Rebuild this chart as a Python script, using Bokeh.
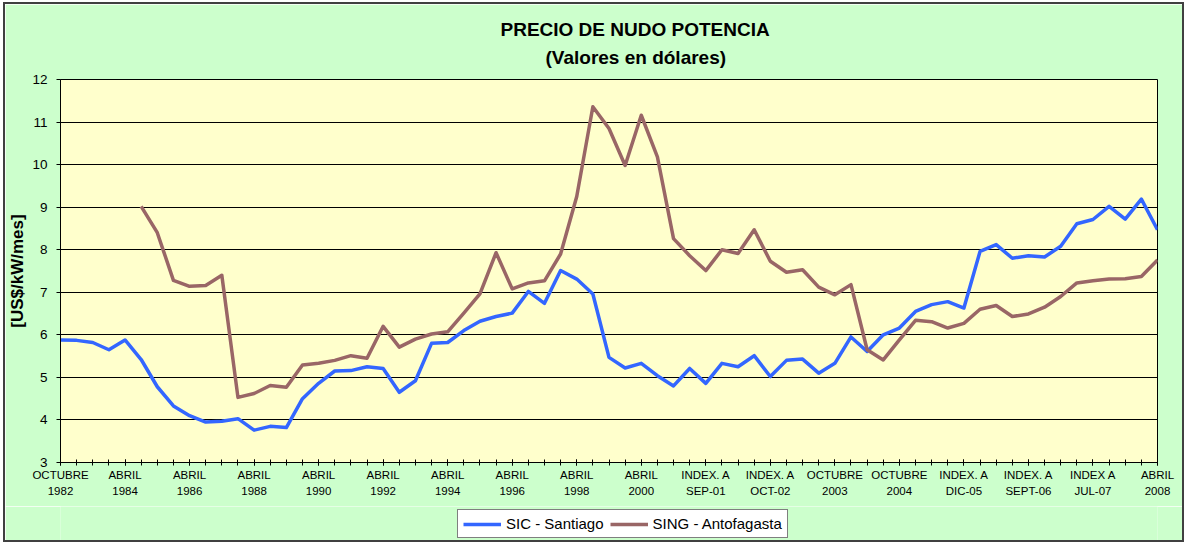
import numpy as np
from bokeh.plotting import figure
from bokeh.layouts import column
from bokeh.models import ColumnDataSource, FixedTicker, Legend, LegendItem, Title, Range1d
from bokeh.embed import file_html
from bokeh.resources import INLINE

# Category tick labels (one every 4 periods)
label_positions = list(range(0, 69, 4))
x_labels = [
    "OCTUBRE\n1982", "ABRIL\n1984", "ABRIL\n1986", "ABRIL\n1988", "ABRIL\n1990",
    "ABRIL\n1992", "ABRIL\n1994", "ABRIL\n1996", "ABRIL\n1998", "ABRIL\n2000",
    "INDEX. A\nSEP-01", "INDEX. A\nOCT-02", "OCTUBRE\n2003", "OCTUBRE\n2004",
    "INDEX. A\nDIC-05", "INDEX. A\nSEPT-06", "INDEX A\nJUL-07", "ABRIL\n2008",
]
series_names = ["SIC - Santiago", "SING - Antofagasta"]
series_colors = ["#3366FF", "#996666"]

# SIC - Santiago  [US$/kW/mes]
sic = [5.88, 5.87, 5.82, 5.65, 5.88, 5.42, 4.78, 4.33, 4.10, 3.95,
       3.97, 4.03, 3.76, 3.85, 3.82, 4.50, 4.86, 5.15, 5.16, 5.25,
       5.21, 4.65, 4.92, 5.80, 5.82, 6.10, 6.32, 6.43, 6.51, 7.02,
       6.74, 7.51, 7.31, 6.96, 5.47, 5.22, 5.33, 5.04, 4.80, 5.21,
       4.86, 5.33, 5.25, 5.51, 5.02, 5.40, 5.43, 5.10, 5.33, 5.95,
       5.61, 6.00, 6.16, 6.55, 6.71, 6.78, 6.63, 7.96, 8.12, 7.80,
       7.86, 7.83, 8.08, 8.61, 8.71, 9.02, 8.72, 9.19, 8.47]

# SING - Antofagasta  [US$/kW/mes]
sing = [None, None, None, None, None, 9.02, 8.40, 7.28, 7.14, 7.16,
        7.40, 4.53, 4.62, 4.81, 4.77, 5.29, 5.33, 5.40, 5.51, 5.45,
        6.20, 5.71, 5.90, 6.02, 6.07, 6.51, 6.96, 7.93, 7.08, 7.22,
        7.27, 7.90, 9.25, 11.36, 10.85, 9.98, 11.16, 10.18, 8.26, 7.86,
        7.51, 8.00, 7.91, 8.47, 7.73, 7.47, 7.53, 7.12, 6.94, 7.18,
        5.65, 5.41, 5.88, 6.34, 6.31, 6.16, 6.27, 6.60, 6.69, 6.43,
        6.49, 6.65, 6.90, 7.22, 7.27, 7.31, 7.32, 7.37, 7.76]

periods = list(range(len(sic)))

src = ColumnDataSource(dict(
    x=periods,
    sic=np.array(sic, dtype=float),
    sing=np.array(sing, dtype=float),
))

FONT = "Liberation Sans"
GREEN = "#CCFFCC"

p = figure(width=1177, height=502, output_backend="svg", toolbar_location=None,
           title=None,
           x_range=Range1d(0, len(sic) - 1), y_range=Range1d(3, 12),
           min_border_left=55, min_border_right=25, min_border_top=75, min_border_bottom=44,
           background_fill_color="#FFFFCC", border_fill_color=GREEN)
p.outline_line_color = "black"
p.outline_line_width = 1

# grid
p.xgrid.visible = False
p.ygrid.grid_line_color = "black"
p.ygrid.grid_line_width = 1

# x axis
xa = p.xaxis[0]
xa.ticker = FixedTicker(ticks=label_positions, minor_ticks=periods)
xa.major_label_overrides = {pos: lab for pos, lab in zip(label_positions, x_labels)}
xa.axis_line_color = "black"
xa.axis_line_width = 1
xa.major_tick_in = 3
xa.major_tick_out = 3
xa.minor_tick_in = 3
xa.minor_tick_out = 3
xa.major_tick_line_color = "black"
xa.minor_tick_line_color = "black"
xa.major_label_text_font = FONT
xa.major_label_text_font_size = "11.5px"
xa.major_label_text_color = "black"
xa.major_label_text_line_height = 1.4
xa.major_label_standoff = 3

# y axis
ya = p.yaxis[0]
ya.ticker = FixedTicker(ticks=list(range(3, 13)))
ya.axis_line_color = "black"
ya.major_tick_in = 0
ya.major_tick_out = 4
ya.minor_tick_line_color = None
ya.major_tick_line_color = "black"
ya.major_label_text_font = FONT
ya.major_label_text_font_size = "13.5px"
ya.major_label_text_color = "black"
ya.major_label_standoff = 9
ya.axis_label = "[US$/kW/mes]"
ya.axis_label_text_font = FONT
ya.axis_label_text_font_style = "bold"
ya.axis_label_text_font_size = "17px"
ya.axis_label_text_color = "black"
ya.axis_label_standoff = 2

p.line("x", "sic", source=src, line_color=series_colors[0], line_width=3.5, line_join="round")
p.line("x", "sing", source=src, line_color=series_colors[1], line_width=3.5, line_join="round")

# Titles: nearest the frame first (a blank spacer, then the two lines)
p.add_layout(Title(text=" ", text_font_size="1px", standoff=6), "above")
p.add_layout(Title(text="(Valores en dólares)", align="left", offset=485,
                   text_font=FONT, text_font_style="bold", text_font_size="19px",
                   text_color="black", standoff=5), "above")
p.add_layout(Title(text="PRECIO DE NUDO POTENCIA", align="left", offset=440,
                   text_font=FONT, text_font_style="bold", text_font_size="19px",
                   text_color="black", standoff=5), "above")

# Legend strip below the chart (legend keys only, no visible data)
lf = figure(width=1177, height=34, output_backend="svg", toolbar_location=None,
            title=None, x_range=Range1d(0, 1), y_range=Range1d(0, 1),
            min_border=0, background_fill_color=GREEN, border_fill_color=GREEN)
lf.outline_line_color = None
lf.axis.visible = False
lf.grid.visible = False
items = []
for name, col in zip(series_names, series_colors):
    r = lf.line(x=[np.nan, np.nan], y=[np.nan, np.nan], line_color=col, line_width=3.5)
    items.append(LegendItem(label=name, renderers=[r]))
legend = Legend(items=items, orientation="horizontal", location=(397, 2), margin=0,
                padding=5, spacing=6, label_standoff=5, glyph_width=38, glyph_height=16,
                label_height=16, label_text_font=FONT, label_text_font_size="15px",
                label_text_color="black",
                border_line_color="black", border_line_width=1,
                background_fill_color="white", background_fill_alpha=1)
lf.add_layout(legend)

layout = column(p, lf, spacing=0, margin=(4, 0, 0, 5),
                styles={"outline": "2px solid #404040"})
open("out.html", "w").write(file_html(layout, INLINE))
